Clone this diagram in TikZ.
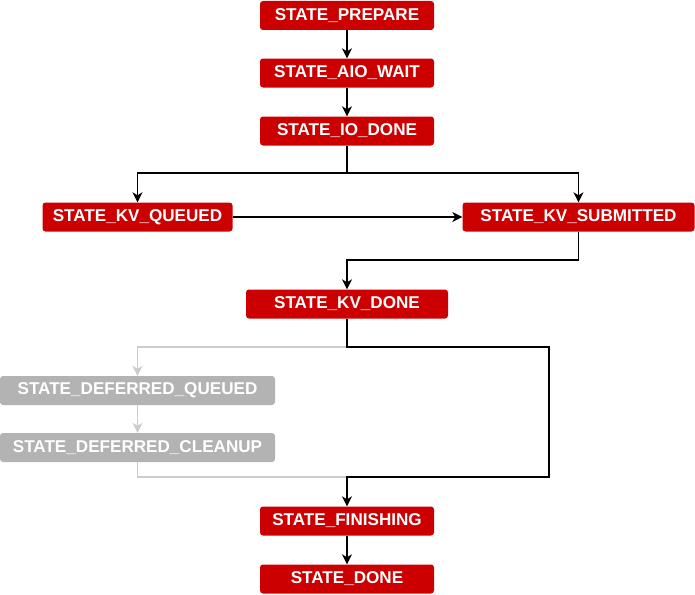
\documentclass[tikz,border=0pt]{standalone}
\usepackage{fontspec}
\setmainfont{Liberation Sans}
\usepackage{tikz}
\usetikzlibrary{arrows.meta, positioning, calc}
\definecolor{stateRed}{HTML}{CC0000}
\definecolor{stateGrey}{HTML}{B3B3B3}
\definecolor{lineGrey}{HTML}{CCCCCC}

\begin{document}
\begin{tikzpicture}[x=1pt,y=-1pt]
    \tikzstyle{every node} = [font=\fontsize{17.1}{19}\selectfont\bfseries]
    \tikzstyle{state} = [rectangle, fill=stateRed, text=white, rounded corners=3pt, minimum height=29pt, inner sep=0pt]
    \tikzstyle{deferred} = [state, fill=stateGrey]
    \tikzstyle{link} = [-{Stealth[length=10pt,width=10pt,inset=3pt]}, line width=1.3pt]
    \tikzstyle{greylink} = [link, draw=lineGrey]
    \useasboundingbox (0,0) rectangle (695,594);

    % place nodes
    \node[state,minimum width=174pt] (prepare) at (347,15.5) {STATE\_PREPARE};
    \node[state,minimum width=174pt] (aioWait) at (347,73) {STATE\_AIO\_WAIT};
    \node[state,minimum width=174pt] (ioDone) at (347,131) {STATE\_IO\_DONE};
    \node[state,minimum width=190pt] (kvQueued) at (137.5,217) {STATE\_KV\_QUEUED};
    \node[state,minimum width=232pt] (kvSubmitted) at (578.5,217) {STATE\_KV\_SUBMITTED};
    \node[state,minimum width=202pt] (kvDone) at (347,304) {STATE\_KV\_DONE};
    \node[deferred,minimum width=275pt] (deferredQueued) at (137.5,390.5) {STATE\_DEFERRED\_QUEUED};
    \node[deferred,minimum width=275pt] (deferredCleanup) at (137.5,447.5) {STATE\_DEFERRED\_CLEANUP};
    \node[state,minimum width=174pt] (finishing) at (347,521) {STATE\_FINISHING};
    \node[state,minimum width=174pt] (done) at (347,579) {STATE\_DONE};

    % bend points
    \coordinate (ioSplit) at (347,173);
    \coordinate (subBend) at (578.5,260);
    \coordinate (kvSplit) at (347,347);
    \coordinate (kvOuter) at (549,477);
    \coordinate (finJoin) at (347,477);

    % Connections
    \draw[link] (prepare.south) -- (aioWait.north);
    \draw[link] (aioWait.south) -- (ioDone.north);
    \draw[link] (ioDone.south) -- (ioSplit) -| (kvQueued.north);
    \draw[link] (ioSplit) -| (kvSubmitted.north);
    \draw[link] (kvQueued.east) -- (kvSubmitted.west);
    \draw[link] (kvSubmitted.south) -- (subBend) -| (kvDone.north);
    \draw[greylink] (kvSplit) -| (deferredQueued.north);
    \draw[greylink] (deferredQueued.south) -- (deferredCleanup.north);
    \draw[line width=1.3pt,lineGrey] (deferredCleanup.south) |- (finJoin);
    \draw[link] (kvDone.south) -- (kvSplit) -| (kvOuter) -- (finJoin) -- (finishing.north);
    \draw[link] (finishing.south) -- (done.north);
\end{tikzpicture}
\end{document}
